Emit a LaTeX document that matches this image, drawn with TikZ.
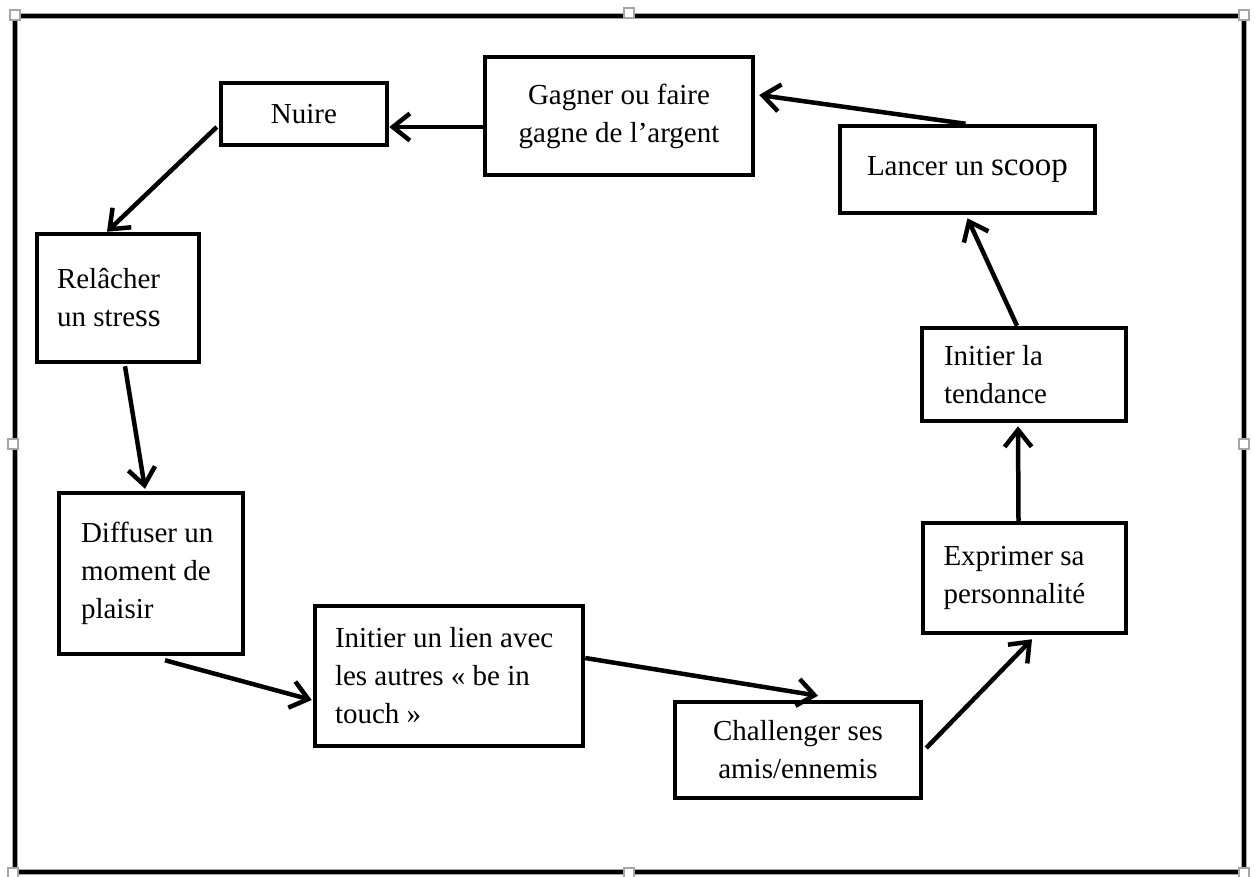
\documentclass[tikz,border=0pt]{standalone}
\usepackage{fontspec}
\setmainfont{Liberation Serif}
\usetikzlibrary{arrows.meta}
\begin{document}
\begin{tikzpicture}[x=1pt,y=-1pt,
  box/.style={draw=black, line width=4.5pt, inner sep=0pt, fill=white,
    font=\fontsize{29}{38}\selectfont},
  lbox/.style={box, align=flush left},
  cbox/.style={box, align=center},
  flow/.style={line width=4.5pt, -{Straight Barb[length=17pt,width=27pt]}},
  handle/.style={draw=black!35, line width=1.2pt, fill=white}]
\useasboundingbox (0,0) rectangle (1255,876);

% outer frame with its selection handles
\draw[black!35, line width=6.5pt] (15,16) rectangle (1244,872);
\draw[black, line width=3.5pt] (15,16) rectangle (1244,872);
\foreach \hx/\hy in {15/15, 629/13, 1244/15, 13/444, 1244/444, 13/873, 629/873, 1244/873}
  \draw[handle] (\hx-5,\hy-5) rectangle (\hx+5,\hy+5);

% boxes of the cycle
\node[cbox, minimum width=166pt, minimum height=62pt] (nuire) at (304,114) {Nuire};
\node[cbox, minimum width=268pt, minimum height=118pt] (gagner) at (619,116)
  {Gagner ou faire\\gagne de l’argent};
\node[cbox, minimum width=255pt, minimum height=87pt] (lancer) at (967.5,169.5)
  {\raisebox{-2pt}{Lancer un {\fontsize{33}{38}\selectfont scoop}}};
\node[lbox, text width=160pt, minimum width=204pt, minimum height=93pt] (tendance) at (1024,374.5)
  {Initier la\\tendance};
\node[lbox, text width=162pt, minimum width=203pt, minimum height=110pt] (exprimer) at (1024.5,578)
  {Exprimer sa\\personnalité};
\node[cbox, minimum width=246pt, minimum height=96pt] (challenger) at (798,750)
  {Challenger ses\\amis/ennemis};
\node[lbox, text width=228pt, minimum width=268pt, minimum height=140pt] (lien) at (449,676)
  {Initier un lien avec\\les autres « be in\\touch »};
\node[lbox, text width=140pt, minimum width=184pt, minimum height=161pt] (diffuser) at (151,573.5)
  {Diffuser un\\moment de\\plaisir\\[-6pt]};
\node[lbox, text width=122pt, minimum width=162pt, minimum height=128pt] (relacher) at (118,298)
  {Relâcher\\un stre{\fontsize{33}{38}\selectfont ss}\\[-10pt]};

% connectors
\draw[flow] ([yshift=-11pt]gagner.west) -- ([yshift=-13pt]nuire.east);
\draw[flow] ([xshift=-2pt]lancer.north) -- ([xshift=4pt,yshift=21pt]gagner.east);
\draw[flow] ([xshift=-7pt]tendance.north) -- ([yshift=-3pt]lancer.south);
\draw[flow] ([xshift=-6pt]exprimer.north) -- ([xshift=-6pt,yshift=-3pt]tendance.south);
\draw[flow] ([xshift=3pt,yshift=2pt]challenger.east) -- ([xshift=7.5pt,yshift=-4pt]exprimer.south);
\draw[flow] ([yshift=18pt]lien.east) -- ([xshift=20pt,yshift=4pt]challenger.north);
\draw[flow] ([xshift=14pt,yshift=-4pt]diffuser.south) -- ([xshift=-1pt,yshift=-24pt]lien.west);
\draw[flow] ([xshift=7pt,yshift=-2pt]relacher.south) -- ([xshift=-6pt,yshift=2pt]diffuser.north);
\draw[flow] ([xshift=-2pt,yshift=-13pt]nuire.west) -- ([xshift=-11pt]relacher.north);
\end{tikzpicture}
\end{document}
